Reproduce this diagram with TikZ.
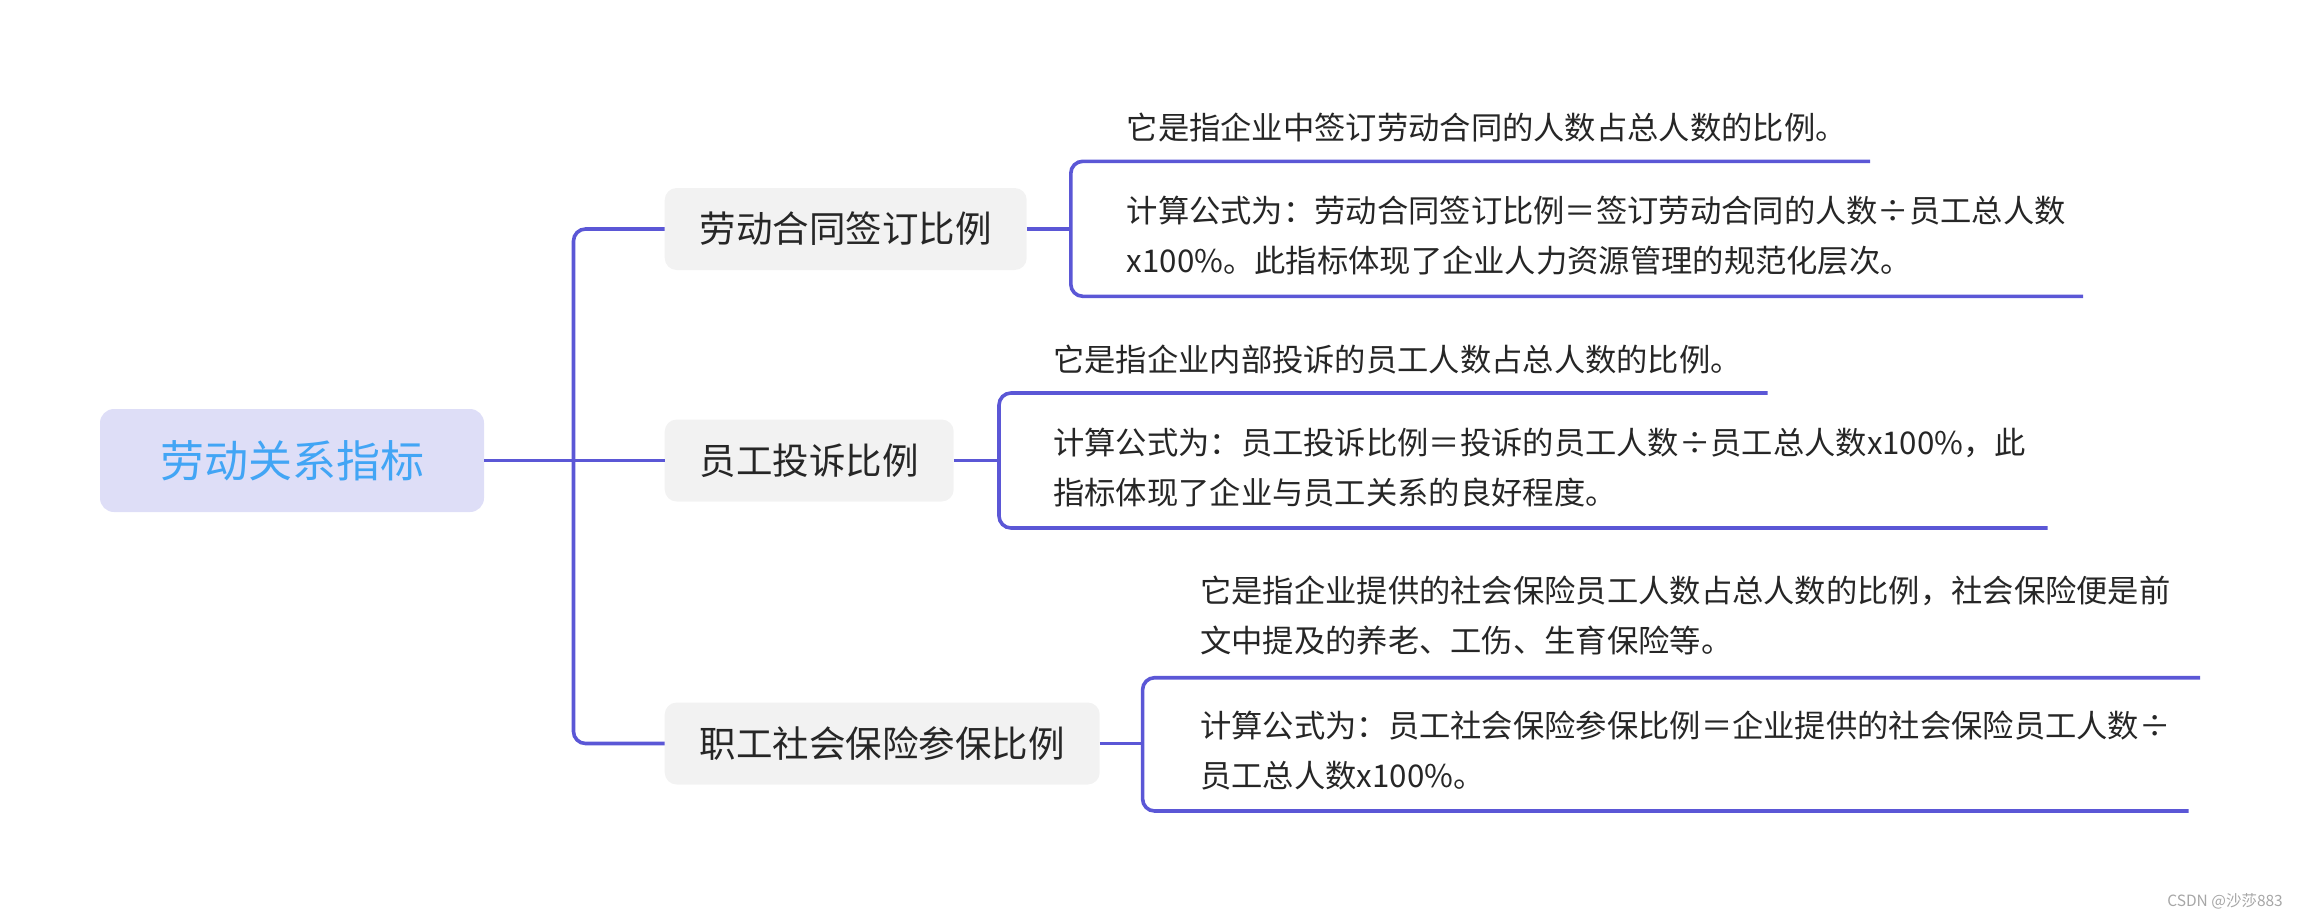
\documentclass[tikz,border=0pt]{standalone}
\usepackage{fontspec}
\setmainfont{Noto Sans CJK SC}
\usetikzlibrary{calc}
\usetikzlibrary{positioning}
\definecolor{linkblue}{RGB}{91,87,214}
\definecolor{rootfill}{RGB}{222,222,247}
\definecolor{roottext}{RGB}{66,165,245}
\definecolor{subfill}{RGB}{242,242,242}
\definecolor{textdark}{RGB}{38,38,38}
\tikzset{rootbox/.style={rounded corners=14, fill=rootfill, text=roottext, font=\fontsize{44}{50}\selectfont, minimum height=103, minimum width=384}}
\tikzset{subbox/.style={rounded corners=12, fill=subfill, text=textdark, font=\fontsize{36.5}{42}\selectfont, minimum height=82, inner xsep=35, anchor=west}}
\tikzset{desc/.style={text=textdark, font=\fontsize{31.3}{50}\selectfont, align=left, anchor=west, inner sep=0}}
\tikzset{link/.style={draw=linkblue, line width=3.6pt}}

\begin{document}
\begin{tikzpicture}[x=1pt,y=-1pt]
\useasboundingbox (0,0) rectangle (2300,916);

\node[rootbox] (root) at (292,460.5) {劳动关系指标};

%sub blocks
\node[subbox] (contract) at (664.5,229) {劳动合同签订比例};
\node[subbox] (complaint) at (664.5,460.5) {员工投诉比例};
\node[subbox] (insurance) at (664.5,743.5) {职工社会保险参保比例};

%trunk
\coordinate (trunk) at (573.5,460.5);
\path[link] (root.east) -- (complaint.west);
\path[link,rounded corners=12] (contract.west) -- (contract.west -| trunk) -- (insurance.west -| trunk) -- (insurance.west);

%contract ratio
\node[desc] (contractdef) at (1126.5,127.6) {它是指企业中签订劳动合同的人数占总人数的比例。};
\node[desc] (contractcalc) at (1126.5,236) {计算公式为：劳动合同签订比例＝签订劳动合同的人数÷员工总人数\\x100\%。此指标体现了企业人力资源管理的规范化层次。};
\coordinate (contracttop) at (1870,161.3);
\coordinate (contractbot) at (2083,296.3);
\coordinate (contractbar) at (1070.8,229);
\path[link] (contract.east) -- (contractbar);
\path[link,rounded corners=12] (contracttop) -- (contracttop -| contractbar) -- (contractbot -| contractbar) -- (contractbot);

%complaint ratio
\node[desc] (complaintdef) at (1053,359.4) {它是指企业内部投诉的员工人数占总人数的比例。};
\node[desc] (complaintcalc) at (1053,468) {计算公式为：员工投诉比例＝投诉的员工人数÷员工总人数x100\%，此\\指标体现了企业与员工关系的良好程度。};
\coordinate (complainttop) at (1767.5,393);
\coordinate (complaintbot) at (2047.6,528);
\coordinate (complaintbar) at (999,460.5);
\path[link] (complaint.east) -- (complaintbar);
\path[link,rounded corners=12] (complainttop) -- (complainttop -| complaintbar) -- (complaintbot -| complaintbar) -- (complaintbot);

%insurance ratio
\node[desc] (insurancedef) at (1200,615.3) {它是指企业提供的社会保险员工人数占总人数的比例，社会保险便是前\\文中提及的养老、工伤、生育保险等。};
\node[desc] (insurancecalc) at (1200,751) {计算公式为：员工社会保险参保比例＝企业提供的社会保险员工人数÷\\员工总人数x100\%。};
\coordinate (insurancetop) at (2200,677.7);
\coordinate (insurancebot) at (2188.5,811);
\coordinate (insurancebar) at (1142.6,743.5);
\path[link] (insurance.east) -- (insurancebar);
\path[link,rounded corners=12] (insurancetop) -- (insurancetop -| insurancebar) -- (insurancebot -| insurancebar) -- (insurancebot);

%watermark
\node[anchor=east, inner sep=0, text=gray!70, font=\fontsize{15.5}{18}\selectfont] (mark) at (2283,901) {CSDN @沙莎883};

\end{tikzpicture}
\end{document}
